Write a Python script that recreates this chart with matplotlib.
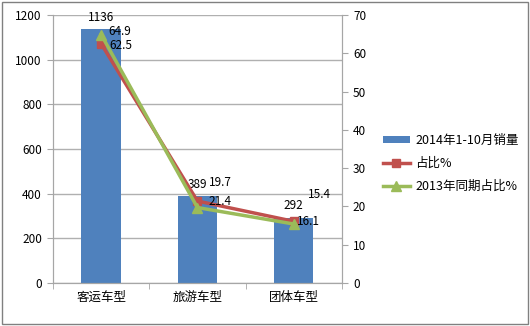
import numpy as np
import matplotlib.pyplot as plt
from matplotlib.patches import Rectangle

plt.rcParams['font.family'] = ['Noto Sans CJK SC', 'DejaVu Sans']

categories = ['客运车型', '旅游车型', '团体车型']
sales = [1136, 389, 292]
share = [62.5, 21.4, 16.1]
share_2013 = [64.9, 19.7, 15.4]

blue = '#4F81BD'
red = '#C0504D'
green = '#9BBB59'
gray = '#A6A6A6'

fig = plt.figure(figsize=(5.3, 3.26), dpi=100)
ax = fig.add_axes([0.1, 0.132, 0.545, 0.822])
ax2 = ax.twinx()

x = np.arange(len(categories))
bars = ax.bar(x, sales, width=0.41, color=blue, label='2014年1-10月销量', zorder=2)
ax.set_xlim(-0.5, 2.5)
ax.set_ylim(0, 1200)
ax.set_yticks(range(0, 1201, 200))
ax.yaxis.grid(True, color='#B0B0B0', lw=1)
ax.set_axisbelow(True)
ax.set_xticks(x)
ax.set_xticklabels(categories, fontsize=9)
ax.set_xticks([-0.5, 0.5, 1.5, 2.5], minor=True)
ax.tick_params(axis='x', which='major', length=0, pad=6)
ax.tick_params(axis='x', which='minor', length=4, color=gray)
ax.tick_params(axis='y', length=4, color=gray, labelsize=8.5, pad=4)

l1, = ax2.plot(x, share, color=red, lw=2.5, marker='s', ms=6, label='占比%', zorder=3)
l2, = ax2.plot(x, share_2013, color=green, lw=2.5, marker='^', ms=7, label='2013年同期占比%', zorder=4)
ax2.set_ylim(0, 70)
ax2.set_yticks(range(0, 71, 10))
ax2.tick_params(axis='y', length=4, color=gray, labelsize=8.5, pad=4)

for a in (ax, ax2):
    a.spines['top'].set_visible(False)
    for s in ('left', 'right', 'bottom'):
        a.spines[s].set_color(gray)

# data labels
for xi, v in zip(x, sales):
    ax.annotate(str(v), (xi, v), xytext=(0, 4), textcoords='offset points',
                ha='center', va='bottom', fontsize=8.5)
red_offsets = [(6, -1), (8, 0), (2, 0)]
for xi, v, off in zip(x, share, red_offsets):
    ax2.annotate(f'{v}', (xi, v), xytext=off, textcoords='offset points',
                 ha='left', va='center', fontsize=8.5, zorder=5)
green_offsets = [(5, 2), (8, 18), (10, 21)]
for xi, v, off in zip(x, share_2013, green_offsets):
    ax2.annotate(f'{v}', (xi, v), xytext=off, textcoords='offset points',
                 ha='left', va='center', fontsize=8.5, zorder=5)

fig.legend([bars, l1, l2], ['2014年1-10月销量', '占比%', '2013年同期占比%'],
           loc='center left', bbox_to_anchor=(0.71, 0.5), frameon=False,
           fontsize=9, handlelength=2.2, handleheight=0.5, labelspacing=0.8,
           borderpad=0, handletextpad=0.4)

fig.patches.append(Rectangle((0.003, 0.005), 0.994, 0.99, transform=fig.transFigure,
                             fill=False, edgecolor='#808080', lw=1))

fig.savefig('out.png', dpi=100)
